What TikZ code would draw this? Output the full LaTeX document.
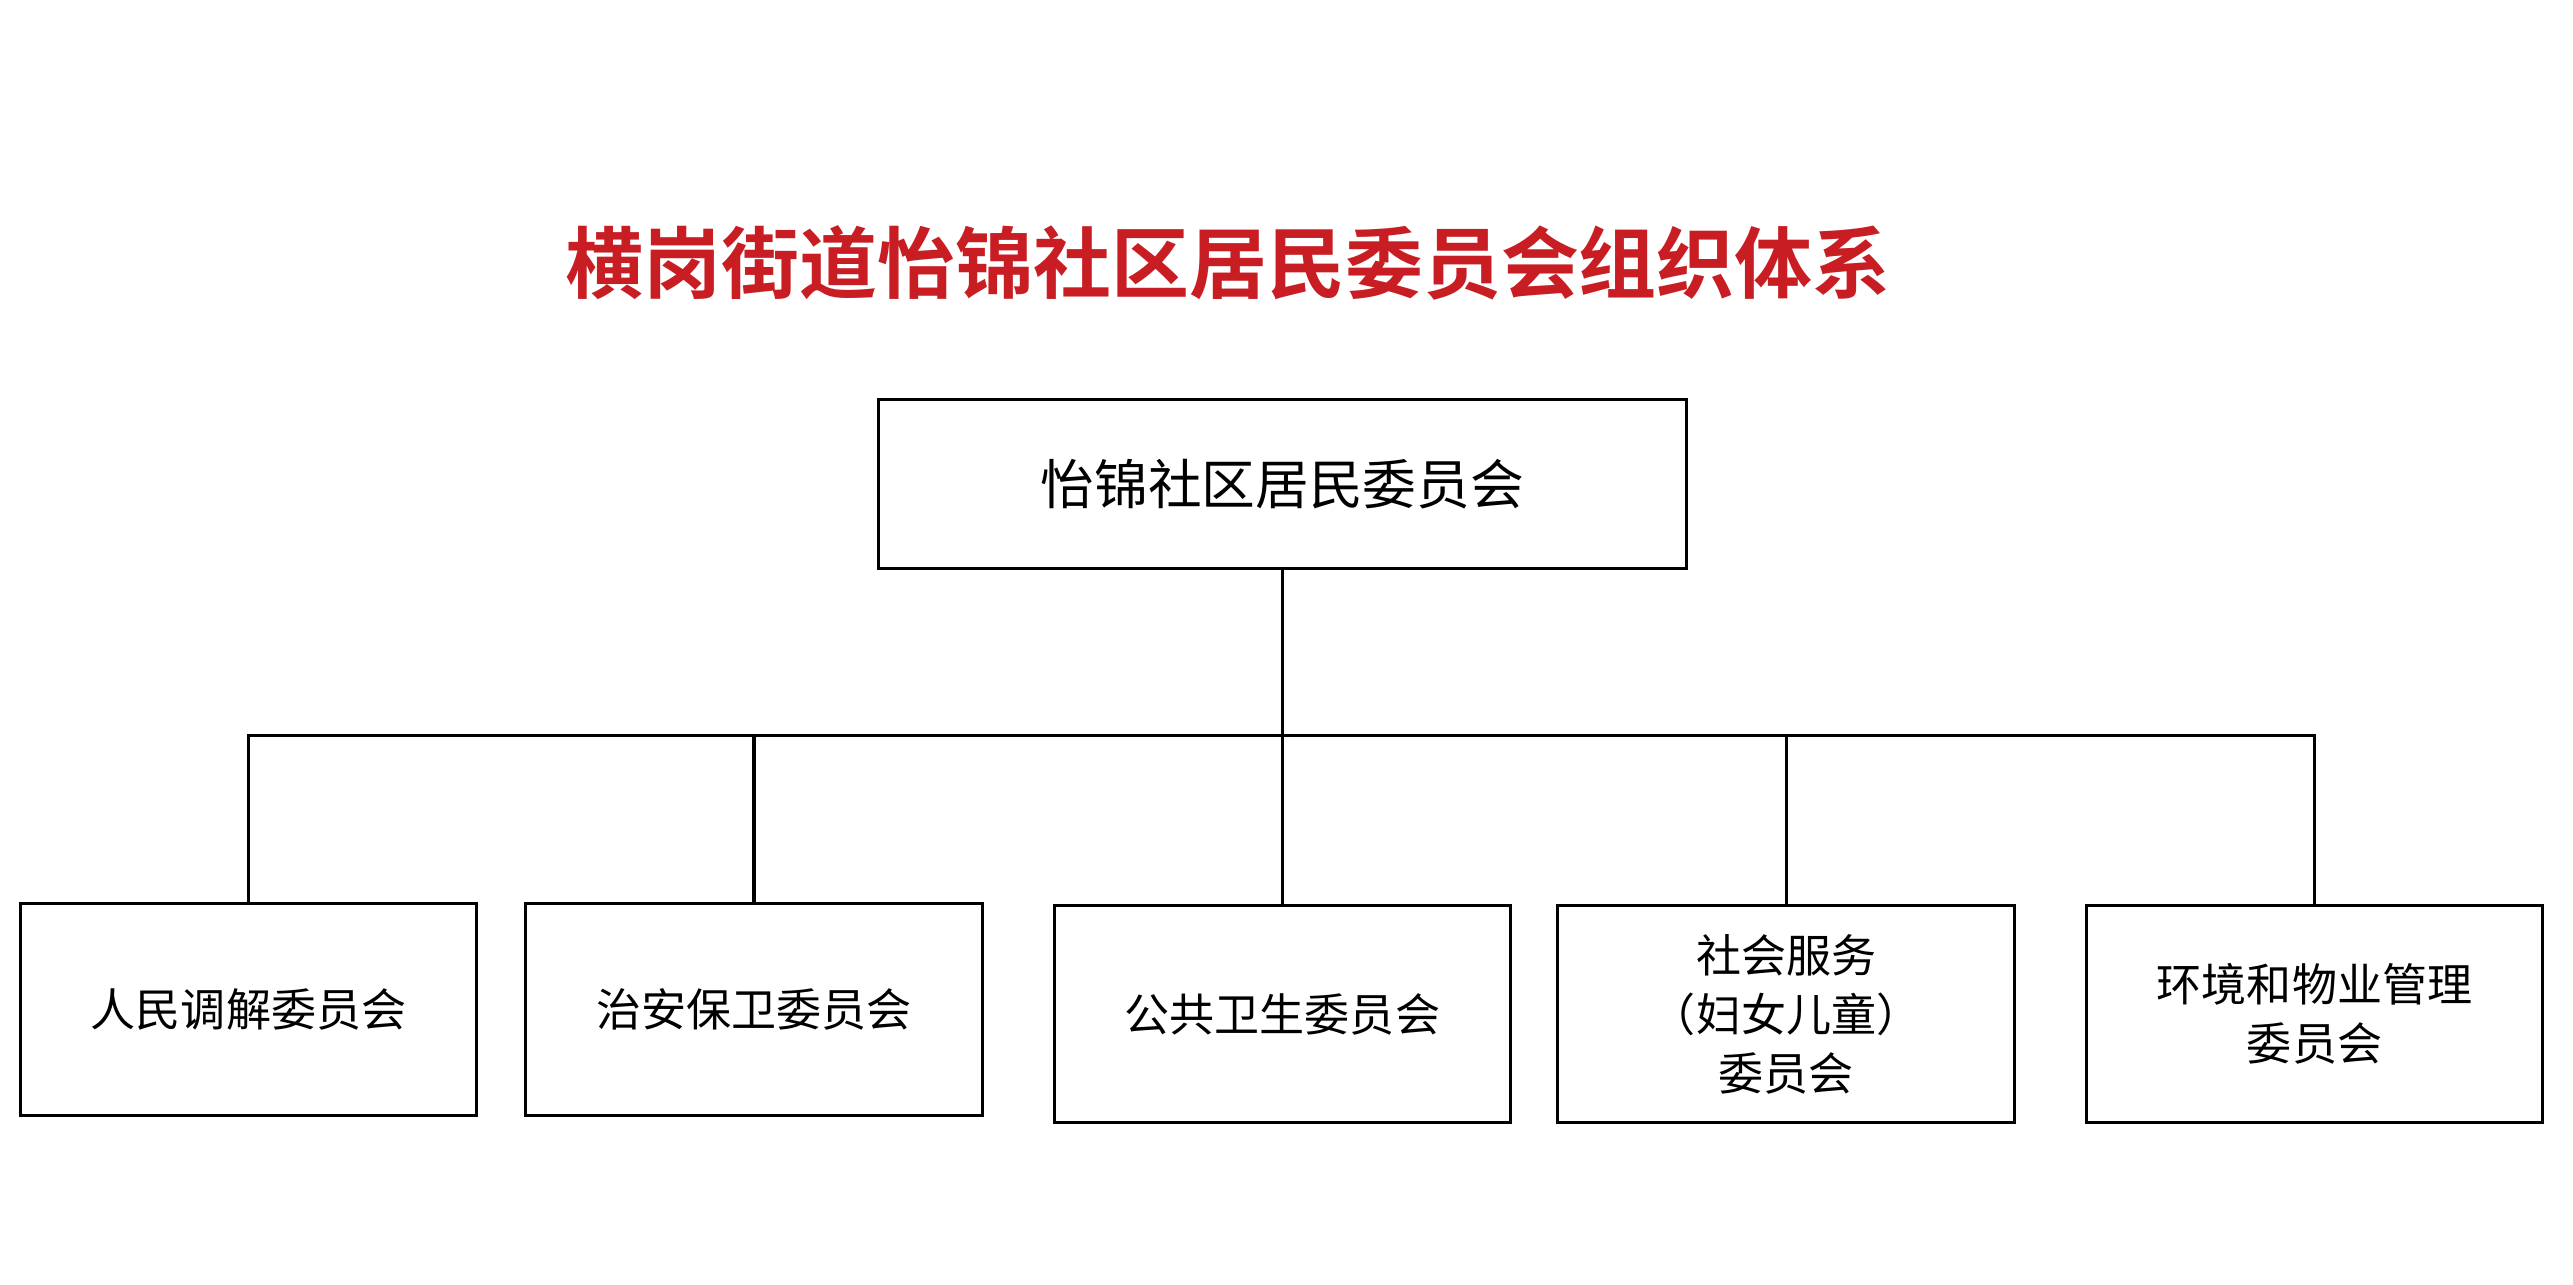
\documentclass[tikz,border=0pt]{standalone}
\usepackage{fontspec}
\newfontfamily\cjk{Noto Sans CJK SC}
\newfontfamily\cjkbold{Noto Sans CJK SC Bold}
\usetikzlibrary{positioning}
\tikzset{
	unit/.style={draw, line width=0.9pt, minimum width=4.63cm, minimum height=2.15cm,
		align=center, font=\cjk\fontsize{13}{17}\selectfont},
	link/.style={line width=0.9pt}
}
\begin{document}
\begin{tikzpicture}[x=0.0167cm,y=-0.0167cm]
	\useasboundingbox (0,0) rectangle (1563,780);

	% Title
	\node[text={rgb,255:red,200;green,30;blue,35}, font=\cjkbold\fontsize{22.5}{26}\selectfont] (title) at (746,160) {横岗街道怡锦社区居民委员会组织体系};

	% Top unit
	\node[unit, minimum width=8.2cm, minimum height=1.72cm, font=\cjk\fontsize{15.5}{19}\selectfont] (jwh) at (779,294) {怡锦社区居民委员会};

	% Committees
	\node[unit] (tiaojie) at (151,613) {人民调解委员会};
	\node[unit] (zhian) at (458,613) {治安保卫委员会};
	\node[unit, minimum height=2.2cm] (weisheng) at (779,616) {公共卫生委员会};
	\node[unit, minimum height=2.2cm] (shehui) at (1085,616) {社会服务\\（妇女儿童）\\委员会};
	\node[unit, minimum height=2.2cm] (huanjing) at (1406,616) {环境和物业管理\\委员会};

	% Connectors
	\coordinate (bus) at (779,447);
	\draw[link] (jwh.south) -- (bus);
	\draw[link] (tiaojie.north) |- (bus) -| (huanjing.north);
	\draw[link] (zhian.north) -- (zhian.north |- bus);
	\draw[link] (weisheng.north) -- (bus);
	\draw[link] (shehui.north) -- (shehui.north |- bus);
\end{tikzpicture}
\end{document}
